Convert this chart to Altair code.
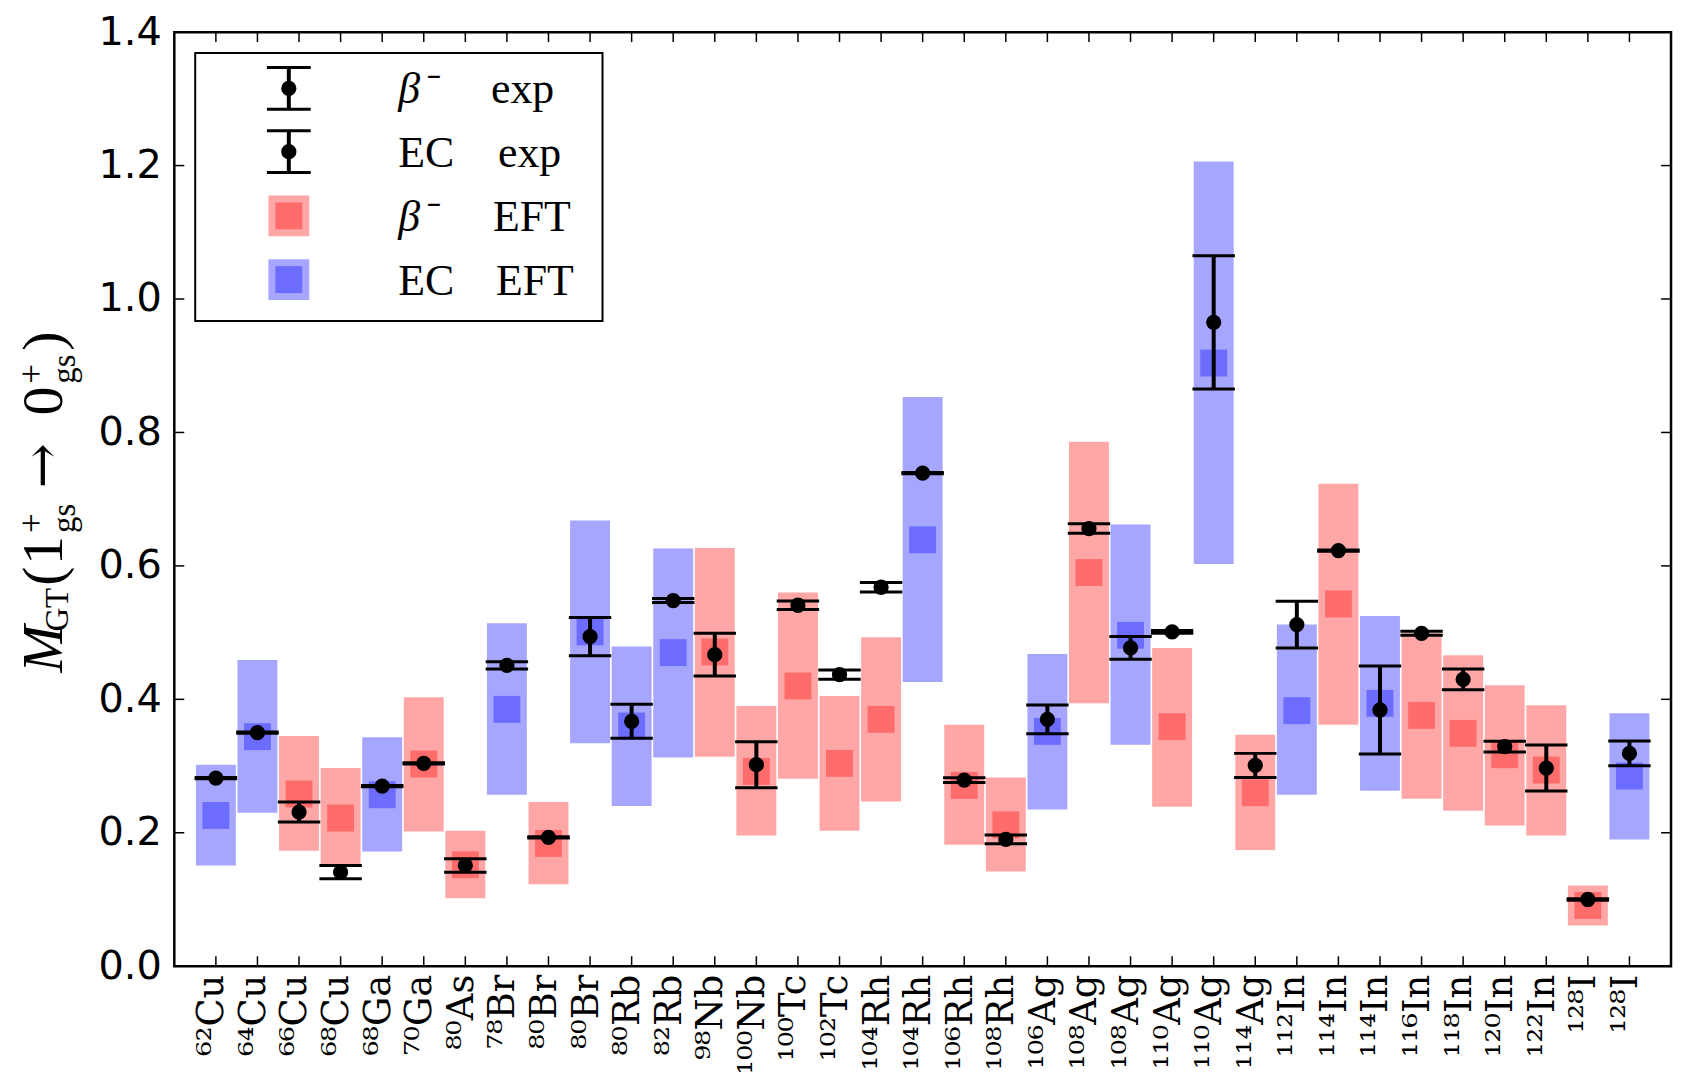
import altair as alt
import pandas as pd

labels = ["⁶²Cu", "⁶⁴Cu", "⁶⁶Cu", "⁶⁸Cu", "⁶⁸Ga", "⁷⁰Ga", "⁸⁰As", "⁷⁸Br", "⁸⁰Br", "⁸⁰Br",
          "⁸⁰Rb", "⁸²Rb", "⁹⁸Nb", "¹⁰⁰Nb", "¹⁰⁰Tc", "¹⁰²Tc", "¹⁰⁴Rh", "¹⁰⁴Rh", "¹⁰⁶Rh", "¹⁰⁸Rh",
          "¹⁰⁶Ag", "¹⁰⁸Ag", "¹⁰⁸Ag", "¹¹⁰Ag", "¹¹⁰Ag", "¹¹⁴Ag", "¹¹²In", "¹¹⁴In", "¹¹⁴In", "¹¹⁶In",
          "¹¹⁸In", "¹²⁰In", "¹²²In", "¹²⁸I", "¹²⁸I"]
decay = ["EC", "EC", "β-", "β-", "EC", "β-", "β-", "EC", "β-", "EC",
         "EC", "EC", "β-", "β-", "β-", "β-", "β-", "EC", "β-", "β-",
         "EC", "β-", "EC", "β-", "EC", "β-", "EC", "β-", "EC", "β-",
         "β-", "β-", "β-", "β-", "EC"]
eft_center = [0.226, 0.344, 0.258, 0.222, 0.257, 0.303, 0.152, 0.385, 0.184, 0.501,
              0.360, 0.470, 0.471, 0.292, 0.420, 0.304, 0.370, 0.639, 0.271, 0.212,
              0.352, 0.590, 0.496, 0.359, 0.904, 0.260, 0.383, 0.543, 0.394, 0.376,
              0.349, 0.317, 0.294, 0.091, 0.285]
eft_low = [0.151, 0.230, 0.173, 0.150, 0.172, 0.202, 0.102, 0.257, 0.123, 0.334,
           0.240, 0.313, 0.314, 0.196, 0.281, 0.203, 0.247, 0.426, 0.182, 0.142,
           0.235, 0.394, 0.332, 0.239, 0.603, 0.174, 0.257, 0.362, 0.263, 0.251,
           0.233, 0.211, 0.196, 0.061, 0.190]
eft_high = [0.302, 0.459, 0.345, 0.297, 0.343, 0.403, 0.203, 0.514, 0.246, 0.668,
            0.479, 0.626, 0.627, 0.390, 0.560, 0.405, 0.493, 0.853, 0.362, 0.283,
            0.468, 0.786, 0.662, 0.477, 1.206, 0.347, 0.512, 0.723, 0.525, 0.499,
            0.466, 0.421, 0.391, 0.121, 0.379]
exp_value = [0.282, 0.350, 0.231, 0.141, 0.270, 0.304, 0.151, 0.451, 0.193, 0.494,
             0.367, 0.548, 0.467, 0.302, 0.541, 0.437, 0.568, 0.739, 0.279, 0.190,
             0.370, 0.656, 0.477, 0.501, 0.965, 0.301, 0.512, 0.623, 0.384, 0.499,
             0.430, 0.329, 0.297, 0.100, 0.319]
exp_err = [0.001, 0.001, 0.015, 0.010, 0.001, 0.001, 0.010, 0.0055, 0.001, 0.0285,
           0.0255, 0.003, 0.032, 0.0345, 0.0065, 0.007, 0.007, 0.001, 0.0035, 0.0065,
           0.0215, 0.007, 0.017, 0.002, 0.100, 0.018, 0.035, 0.001, 0.066, 0.003,
           0.0155, 0.008, 0.0345, 0.001, 0.0185]
y_ticks = [0.0, 0.2, 0.4, 0.6, 0.8, 1.0, 1.2, 1.4]

idx = list(range(1, len(labels) + 1))
df = pd.DataFrame({"i": idx, "label": labels, "decay": decay, "c": eft_center,
                   "lo": eft_low, "hi": eft_high, "v": exp_value, "e": exp_err})
one = pd.DataFrame({"k": [0]})
tick_df = pd.DataFrame({"t": y_ticks})

W, H = 1503, 938
SERIF = "Liberation Serif"
RED_BAND, RED_CORE = "#ffa6a6", "#ff6c6c"
BLUE_BAND, BLUE_CORE = "#a6a6ff", "#6c6cff"

xscale = alt.Scale(domain=[0, 36], nice=False, zero=False)
yscale = alt.Scale(domain=[0, 1.4], nice=False, zero=False)
label_expr = "[" + ",".join("'" + s + "'" for s in labels) + "][datum.value - 1]"

base = alt.Chart(df).transform_calculate(
    xl="datum.i - 0.48", xr="datum.i + 0.48",
    cl="datum.i - 0.51", cr="datum.i + 0.51",
    elo="datum.v - datum.e", ehi="datum.v + datum.e",
)

x_axis = alt.Axis(values=idx, labelExpr=label_expr, labelAngle=270, labelAlign="right",
                  labelBaseline="alphabetic", labelOffset=7, labelFont="DejaVu Serif",
                  labelFontSize=37, labelColor="black", labelPadding=8, labelOverlap=False,
                  labelFlush=False, ticks=False, domain=False, grid=False, title="")
y_axis = alt.Axis(values=y_ticks, format=".1f", labelFont="DejaVu Sans", labelFontSize=40,
                  labelColor="black", labelPadding=13, labelFlush=False, ticks=False,
                  domain=False, grid=False, title="")

bands_red = base.transform_filter("datum.decay == 'β-'").mark_rect(color=RED_BAND).encode(
    x=alt.X("xl:Q", scale=xscale, axis=x_axis), x2="xr:Q",
    y=alt.Y("lo:Q", scale=yscale, axis=y_axis), y2="hi:Q")
bands_blue = base.transform_filter("datum.decay == 'EC'").mark_rect(color=BLUE_BAND).encode(
    x="xl:Q", x2="xr:Q", y="lo:Q", y2="hi:Q")
core_red = base.transform_filter("datum.decay == 'β-'").mark_square(
    size=729, color=RED_CORE, opacity=1).encode(x="i:Q", y="c:Q")
core_blue = base.transform_filter("datum.decay == 'EC'").mark_square(
    size=729, color=BLUE_CORE, opacity=1).encode(x="i:Q", y="c:Q")

err_line = base.mark_rule(color="black", strokeWidth=4).encode(x="i:Q", y="elo:Q", y2="ehi:Q")
cap_lo = base.mark_rule(color="black", strokeWidth=3).encode(x="cl:Q", x2="cr:Q", y="elo:Q")
cap_hi = base.mark_rule(color="black", strokeWidth=3).encode(x="cl:Q", x2="cr:Q", y="ehi:Q")
dots = base.mark_circle(color="black", size=235, opacity=1).encode(x="i:Q", y="v:Q")

tick_style = dict(color="black", strokeWidth=1.5)
left_ticks = alt.Chart(tick_df).mark_rule(**tick_style).encode(
    y="t:Q", x=alt.value(0), x2=alt.value(10))
right_ticks = alt.Chart(tick_df).mark_rule(**tick_style).encode(
    y="t:Q", x=alt.value(W), x2=alt.value(W - 10))
top_ticks = alt.Chart(df).mark_rule(**tick_style).encode(
    x="i:Q", y=alt.value(0), y2=alt.value(10))
bottom_ticks = alt.Chart(df).mark_rule(**tick_style).encode(
    x="i:Q", y=alt.value(H), y2=alt.value(H - 10))


def text_piece(s, x, y, size, italic=False, angle=0, font=SERIF):
    kw = dict(text=s, align="left", baseline="alphabetic", font=font, fontSize=size,
              color="black")
    if angle:
        kw["angle"] = angle
    if italic:
        kw["fontStyle"] = "italic"
    return alt.Chart(one).mark_text(**kw).encode(x=alt.value(x), y=alt.value(y))


# y-axis title: M_GT(1+_gs -> 0+_gs)
title_layers = [
    text_piece("M", -113, 643, 57, italic=True, angle=270),
    text_piece("GT", -107, 602, 33, angle=270),
    text_piece("(", -113, 556, 58, angle=270),
    text_piece("1", -113, 535, 58, angle=270),
    text_piece("+", -132, 503, 35, angle=270),
    text_piece("gs", -100, 503, 33, angle=270),
    text_piece("→", -115, 458, 54, angle=270, font="DejaVu Serif"),
    text_piece("0", -113, 385, 58, angle=270),
    text_piece("+", -132, 353, 35, angle=270),
    text_piece("gs", -100, 353, 33, angle=270),
    text_piece(")", -113, 320, 58, angle=270),
]

# legend
legend_box = alt.Chart(one).mark_rect(fill="white", stroke="black", strokeWidth=2).encode(
    x=alt.value(21), x2=alt.value(430), y=alt.value(21), y2=alt.value(290))
legend_layers = [legend_box]
for r in (56.5, 120):
    legend_layers += [
        alt.Chart(one).mark_rule(color="black", strokeWidth=4).encode(
            x=alt.value(115), y=alt.value(r - 21), y2=alt.value(r + 21)),
        alt.Chart(one).mark_rule(color="black", strokeWidth=3).encode(
            x=alt.value(93), x2=alt.value(137), y=alt.value(r - 21)),
        alt.Chart(one).mark_rule(color="black", strokeWidth=3).encode(
            x=alt.value(93), x2=alt.value(137), y=alt.value(r + 21)),
        alt.Chart(one).mark_circle(color="black", size=235, opacity=1).encode(
            x=alt.value(115), y=alt.value(r)),
    ]
for r, band, core in ((184.5, RED_BAND, RED_CORE), (248.5, BLUE_BAND, BLUE_CORE)):
    legend_layers += [
        alt.Chart(one).mark_square(color=band, size=1681, opacity=1).encode(
            x=alt.value(115), y=alt.value(r)),
        alt.Chart(one).mark_square(color=core, size=729, opacity=1).encode(
            x=alt.value(115), y=alt.value(r)),
    ]
legend_layers += [
    text_piece("β⁻", 225, 56.5 + 15, 44, italic=True),
    text_piece("exp", 318, 56.5 + 15, 44),
    text_piece("EC", 225, 120 + 15, 44),
    text_piece("exp", 325, 120 + 15, 44),
    text_piece("β⁻", 225, 184.5 + 15, 44, italic=True),
    text_piece("EFT", 320, 184.5 + 15, 44),
    text_piece("EC", 225, 248.5 + 15, 44),
    text_piece("EFT", 323, 248.5 + 15, 44),
]

chart = alt.layer(
    bands_red, bands_blue, core_red, core_blue,
    err_line, cap_lo, cap_hi, dots,
    left_ticks, right_ticks, top_ticks, bottom_ticks,
    *legend_layers, *title_layers,
).properties(
    width=W, height=H,
    autosize=alt.AutoSizeParams(type="none"),
    padding={"left": 167, "top": 22, "right": 4, "bottom": 105},
).configure_view(stroke="black", strokeWidth=2.5)

chart.save("out.html", embed_options={"renderer": "svg", "actions": False})
